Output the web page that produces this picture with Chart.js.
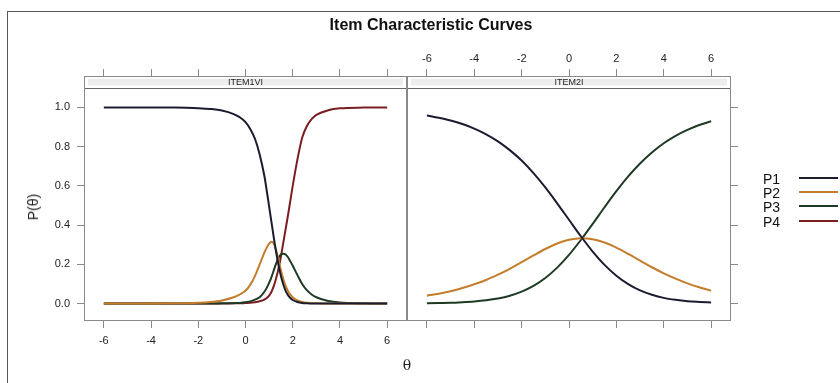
<!DOCTYPE html>
<html>
<head>
<meta charset="utf-8">
<script src="https://cdn.jsdelivr.net/npm/chart.js@4/dist/chart.umd.min.js"></script>
<style>
  body { margin: 0; background: #fff; font-family: "Liberation Sans", Arial, sans-serif; }
  #wrap { position: relative; width: 840px; height: 383px; overflow: hidden; background: #fff; }
  #frame { position: absolute; left: 7px; top: 11px; width: 840px; height: 380px;
           border-left: 1px solid #555; border-top: 1px solid #555; }
  canvas { position: absolute; left: 0; top: 0; }
  #title { position: absolute; left: 431px; top: 25px; transform: translate(-50%, -50%);
           font-weight: bold; font-size: 16px; color: #111; white-space: nowrap; }
  #ylab { position: absolute; left: 33px; top: 207px; transform: translate(-50%, -50%) rotate(-90deg);
          font-size: 14px; color: #222; white-space: nowrap; }
  #xlab { position: absolute; left: 407px; top: 365px; transform: translate(-50%, -50%);
          font-size: 14px; color: #222; font-family: "DejaVu Serif", serif; }
  #legend { position: absolute; left: 763px; top: 171px; }
  .row { position: relative; height: 14.2px; width: 76px; }
  .row span { position: absolute; left: 0; top: 0; font-size: 14px; line-height: 16px; color: #111; }
  .row i { position: absolute; left: 36px; top: 6px; width: 39px; height: 2px; }
</style>
</head>
<body>
<div id="wrap">
  <div id="frame"></div>
  <canvas id="leftPanel" width="840" height="383"></canvas>
  <canvas id="rightPanel" width="840" height="383"></canvas>
  <div id="title">Item Characteristic Curves</div>
  <div id="ylab">P(θ)</div>
  <div id="xlab">θ</div>
  <div id="legend"></div>
</div>
<script>
// series + panels
const seriesNames = ["P1", "P2", "P3", "P4"];
const seriesColors = ["#1c1c30", "#c47d2a", "#1e3a24", "#7a1e22"];
const panelNames = ["ITEM1VI", "ITEM2I"];
const xTicks = [-6, -4, -2, 0, 2, 4, 6];
const yTicks = [0, 0.2, 0.4, 0.6, 0.8, 1.0];

// ITEM1VI
const thetaItem1 = [-6, -5, -4, -3, -2.5, -2, -1.5, -1, -0.5, -0.25, 0, 0.2, 0.4, 0.6, 0.8, 0.9,
  1.0, 1.1, 1.2, 1.3, 1.4, 1.5, 1.6, 1.7, 1.8, 1.9, 2.0, 2.2, 2.4, 2.6, 2.8, 3.0, 3.5, 4, 5, 6];
const item1P1 = [1, 1, 1, 0.999, 0.998, 0.996, 0.992, 0.984, 0.966, 0.95, 0.925, 0.89, 0.84, 0.76, 0.65, 0.575,
  0.495, 0.415, 0.335, 0.26, 0.195, 0.14, 0.097, 0.065, 0.043, 0.028, 0.018, 0.008, 0.003, 0.001, 0, 0, 0, 0, 0, 0];
const item1P2 = [0, 0, 0, 0.001, 0.002, 0.004, 0.008, 0.016, 0.032, 0.046, 0.065, 0.095, 0.14, 0.2, 0.26, 0.285,
  0.305, 0.315, 0.305, 0.27, 0.22, 0.17, 0.125, 0.09, 0.064, 0.045, 0.032, 0.016, 0.008, 0.004, 0.002, 0.001, 0, 0, 0, 0];
const item1P3 = [0, 0, 0, 0, 0, 0, 0, 0.001, 0.002, 0.003, 0.007, 0.011, 0.02, 0.032, 0.06, 0.08,
  0.105, 0.135, 0.17, 0.205, 0.235, 0.25, 0.254, 0.25, 0.236, 0.215, 0.193, 0.145, 0.1, 0.068, 0.046, 0.032, 0.013, 0.005, 0.001, 0];
const item1P4 = [0, 0, 0, 0, 0, 0, 0, 0, 0.001, 0.001, 0.003, 0.004, 0.007, 0.012, 0.02, 0.028,
  0.04, 0.06, 0.09, 0.13, 0.18, 0.24, 0.31, 0.38, 0.45, 0.525, 0.6, 0.735, 0.845, 0.905, 0.94, 0.962, 0.985, 0.995, 0.999, 1];

// ITEM2I
const thetaItem2 = [-6, -5.5, -5, -4.5, -4, -3.5, -3, -2.5, -2, -1.5, -1, -0.5, 0, 0.5, 1, 1.5,
  2, 2.5, 3, 3.5, 4, 4.5, 5, 5.5, 6];
const item2P1 = [0.959, 0.947, 0.933, 0.915, 0.892, 0.863, 0.827, 0.782, 0.729, 0.665, 0.592, 0.511, 0.427,
  0.343, 0.265, 0.197, 0.142, 0.099, 0.067, 0.045, 0.029, 0.019, 0.012, 0.008, 0.005];
const item2P2 = [0.040, 0.050, 0.063, 0.079, 0.098, 0.120, 0.147, 0.177, 0.211, 0.245, 0.278, 0.306, 0.325,
  0.333, 0.328, 0.311, 0.285, 0.253, 0.219, 0.185, 0.154, 0.127, 0.103, 0.083, 0.066];
const item2P3 = [0.002, 0.003, 0.004, 0.007, 0.011, 0.017, 0.026, 0.040, 0.061, 0.090, 0.130, 0.183, 0.248,
  0.324, 0.406, 0.491, 0.573, 0.648, 0.714, 0.770, 0.817, 0.855, 0.885, 0.910, 0.929];

const xRange = [-6.84, 6.84];
const yRange = [-0.089, 1.16];
const tickFont = { family: "'Liberation Sans', Arial, sans-serif", size: 11 };
const tickColor = "#222";
const lineGray = "#8a8a8a";

// strip on top of each panel + the panel box
const panelPlugin = {
  id: "panel",
  afterDatasetsDraw(chart, args, opts) {
    const a = chart.chartArea;
    const ctx = chart.ctx;
    const w = a.right - a.left;
    const stripH = 12;
    ctx.save();
    ctx.fillStyle = "#fff";
    ctx.fillRect(a.left, a.top, w, stripH);
    ctx.fillStyle = "#ededed";
    ctx.fillRect(a.left + 4, a.top + 2.5, w - 8, stripH - 5);
    ctx.strokeStyle = "#666";
    ctx.lineWidth = 1;
    ctx.beginPath();
    ctx.moveTo(a.left, a.top + stripH + 0.5);
    ctx.lineTo(a.right, a.top + stripH + 0.5);
    ctx.stroke();
    ctx.fillStyle = "#222";
    ctx.font = "9px 'Liberation Sans', Arial, sans-serif";
    ctx.textAlign = "center";
    ctx.textBaseline = "middle";
    ctx.fillText(opts.label, (a.left + a.right) / 2, a.top + stripH / 2 + 0.5);
    ctx.strokeStyle = lineGray;
    ctx.strokeRect(a.left + 0.5, a.top + 0.5, w - 1, a.bottom - a.top - 1);
    ctx.restore();
  }
};

function xAxis(position, showLabels, height) {
  return {
    type: "linear",
    position: position,
    min: xRange[0],
    max: xRange[1],
    afterBuildTicks: (s) => { s.ticks = xTicks.map((v) => ({ value: v })); },
    afterFit: (s) => { s.height = height; },
    ticks: {
      display: showLabels,
      font: tickFont,
      color: tickColor,
      padding: position === "top" ? 3 : 6,
      maxRotation: 0,
      callback: (v) => String(v)
    },
    grid: { drawOnChartArea: false, tickLength: 7, color: lineGray },
    border: { display: false }
  };
}

function yAxis(position, showLabels, width) {
  return {
    type: "linear",
    position: position,
    min: yRange[0],
    max: yRange[1],
    afterBuildTicks: (s) => { s.ticks = yTicks.map((v) => ({ value: v })); },
    afterFit: (s) => { s.width = width; },
    ticks: {
      display: showLabels,
      font: tickFont,
      color: tickColor,
      padding: 7,
      callback: (v) => v.toFixed(1)
    },
    grid: { drawOnChartArea: false, tickLength: 7, color: lineGray },
    border: { display: false }
  };
}

function makeDatasets(thetas, series) {
  return series.map((vals, i) => ({
    label: seriesNames[i],
    data: thetas.map((t, j) => ({ x: t, y: vals[j] })),
    borderColor: seriesColors[i],
    borderWidth: 2,
    pointRadius: 0,
    fill: false,
    cubicInterpolationMode: "monotone"
  }));
}

function drawPanel(id, label, thetas, series, padding, scales) {
  new Chart(document.getElementById(id), {
    type: "line",
    data: { datasets: makeDatasets(thetas, series) },
    options: {
      responsive: false,
      animation: false,
      devicePixelRatio: 1,
      layout: { padding: padding },
      scales: scales,
      plugins: {
        legend: { display: false },
        tooltip: { enabled: false },
        panel: { label: label }
      }
    },
    plugins: [panelPlugin]
  });
}

drawPanel("leftPanel", panelNames[0], thetaItem1, [item1P1, item1P2, item1P3, item1P4],
  { left: 0, right: 433, top: 60, bottom: 30 },
  { x: xAxis("bottom", true, 32), x2: xAxis("top", false, 16), y: yAxis("left", true, 84) });

drawPanel("rightPanel", panelNames[1], thetaItem2, [item2P1, item2P2, item2P3],
  { left: 407, right: 89, top: 46, bottom: 30 },
  { x: xAxis("bottom", false, 32), x2: xAxis("top", true, 30), y: yAxis("right", false, 20) });

// key on the right
const legend = document.getElementById("legend");
seriesNames.forEach((name, i) => {
  const row = document.createElement("div");
  row.className = "row";
  row.innerHTML = `<span>${name}</span><i style="background:${seriesColors[i]}"></i>`;
  legend.appendChild(row);
});
</script>
</body>
</html>
